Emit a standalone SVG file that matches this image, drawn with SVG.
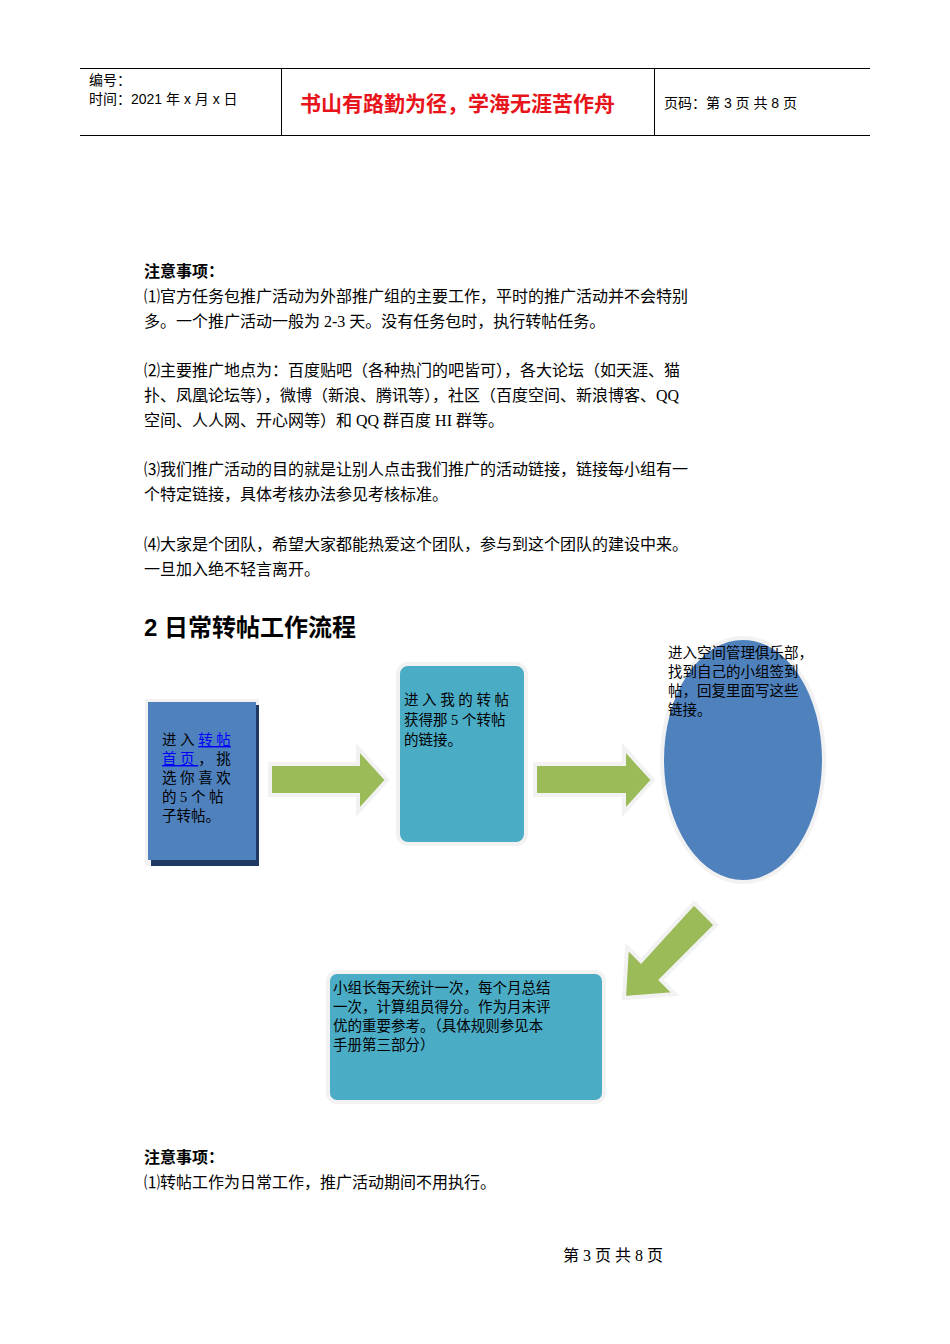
<svg xmlns="http://www.w3.org/2000/svg" width="950" height="1344" viewBox="0 0 950 1344">
<style>
.s{font-family:"Liberation Serif","Noto Sans CJK SC",serif;font-size:16px;fill:#000}
.h{font-family:"Liberation Sans","Noto Sans CJK SC",sans-serif;fill:#000}
.n{font-family:"Liberation Serif","Noto Sans CJK SC",serif;font-size:14.5px;fill:#000}
.ar{fill:#9bbb59;stroke:#f2f2f2;stroke-width:4}
</style>
<rect width="950" height="1344" fill="#fff"/>
<g id="header">
<line x1="80" y1="68.500" x2="870" y2="68.500" stroke="#000"/>
<line x1="80" y1="135.500" x2="870" y2="135.500" stroke="#000"/>
<line x1="281.500" y1="68" x2="281.500" y2="136" stroke="#000"/>
<line x1="654.500" y1="68" x2="654.500" y2="136" stroke="#000"/>
<text class="h" x="89" y="85" font-size="14">编号：</text>
<text class="h" x="89" y="104" font-size="14">时间：2021 年 x 月 x 日</text>
<text class="h" x="300" y="111" font-size="21" font-weight="bold" fill="#e00000" style="fill:#e8141b">书山有路勤为径，学海无涯苦作舟</text>
<text class="h" x="664" y="108" font-size="14">页码：第 3 页  共 8 页</text>
</g>
<g id="notes1">
<text class="s" x="144" y="277" font-weight="bold" font-size="15">注意事项：</text>
<text class="s" x="144" y="302">⑴官方任务包推广活动为外部推广组的主要工作，平时的推广活动并不会特别</text>
<text class="s" x="144" y="327">多。一个推广活动一般为 2-3 天。没有任务包时，执行转帖任务。</text>
<text class="s" x="144" y="376">⑵主要推广地点为：百度贴吧（各种热门的吧皆可），各大论坛（如天涯、猫</text>
<text class="s" x="144" y="401">扑、凤凰论坛等），微博（新浪、腾讯等），社区（百度空间、新浪博客、QQ</text>
<text class="s" x="144" y="426">空间、人人网、开心网等）和 QQ 群百度 HI 群等。</text>
<text class="s" x="144" y="475">⑶我们推广活动的目的就是让别人点击我们推广的活动链接，链接每小组有一</text>
<text class="s" x="144" y="500">个特定链接，具体考核办法参见考核标准。</text>
<text class="s" x="144" y="550">⑷大家是个团队，希望大家都能热爱这个团队，参与到这个团队的建设中来。</text>
<text class="s" x="144" y="575">一旦加入绝不轻言离开。</text>
<text class="h" x="144" y="636" font-size="24" font-weight="bold">2 日常转帖工作流程</text>
</g>
<g id="connectors">
<polygon class="ar" points="270,764 358,764 358,748 387,780 358,812 358,795 270,795"/>
<polygon class="ar" points="535,764 624,764 624,748 653,780 624,812 624,795 535,795"/>
<polygon class="ar" points="694,903 716,925 661,980 675,994 624,998 627,947 641,961"/>
</g>
<g id="node1">
<rect x="145" y="699" width="114" height="167" fill="#f2f2f2"/>
<rect x="151" y="705" width="108" height="161" fill="#1f3864"/>
<rect x="148" y="702" width="108" height="158" fill="#4f81bd"/>
<text class="n" x="162" y="745">进 入 <tspan fill="#0000ff" text-decoration="underline">转 帖</tspan></text>
<text class="n" x="162" y="764"><tspan fill="#0000ff" text-decoration="underline">首 页 </tspan>，  挑</text>
<text class="n" x="162" y="783">选 你 喜 欢</text>
<text class="n" x="162" y="802">的  5  个  帖</text>
<text class="n" x="162" y="821">子转帖。</text>
</g>
<g id="node2">
<rect x="398" y="664" width="128" height="180" rx="10" fill="#4bacc6" stroke="#f2f2f2" stroke-width="4"/>
<text class="n" x="404" y="705">进 入 我 的 转 帖</text>
<text class="n" x="404" y="725">获得那 5 个转帖</text>
<text class="n" x="404" y="745">的链接。</text>
</g>
<g id="node3">
<ellipse cx="743" cy="760" rx="81" ry="122" fill="#4f81bd" stroke="#f2f2f2" stroke-width="4"/>
<text class="n" x="668" y="658">进入空间管理俱乐部，</text>
<text class="n" x="668" y="677">找到自己的小组签到</text>
<text class="n" x="668" y="696">帖，回复里面写这些</text>
<text class="n" x="668" y="715">链接。</text>
</g>
<g id="node4">
<rect x="328" y="972" width="276" height="130" rx="9" fill="#4bacc6" stroke="#f2f2f2" stroke-width="4"/>
<text class="n" x="333" y="993">小组长每天统计一次，每个月总结</text>
<text class="n" x="333" y="1012">一次，计算组员得分。作为月末评</text>
<text class="n" x="333" y="1031">优的重要参考。（具体规则参见本</text>
<text class="n" x="333" y="1050">手册第三部分）</text>
</g>
<g id="notes2">
<text class="s" x="144" y="1163" font-weight="bold" font-size="15">注意事项：</text>
<text class="s" x="144" y="1188">⑴转帖工作为日常工作，推广活动期间不用执行。</text>
<text class="s" x="563" y="1261" font-size="13">第  3  页  共  8  页</text>
</g>
</svg>
